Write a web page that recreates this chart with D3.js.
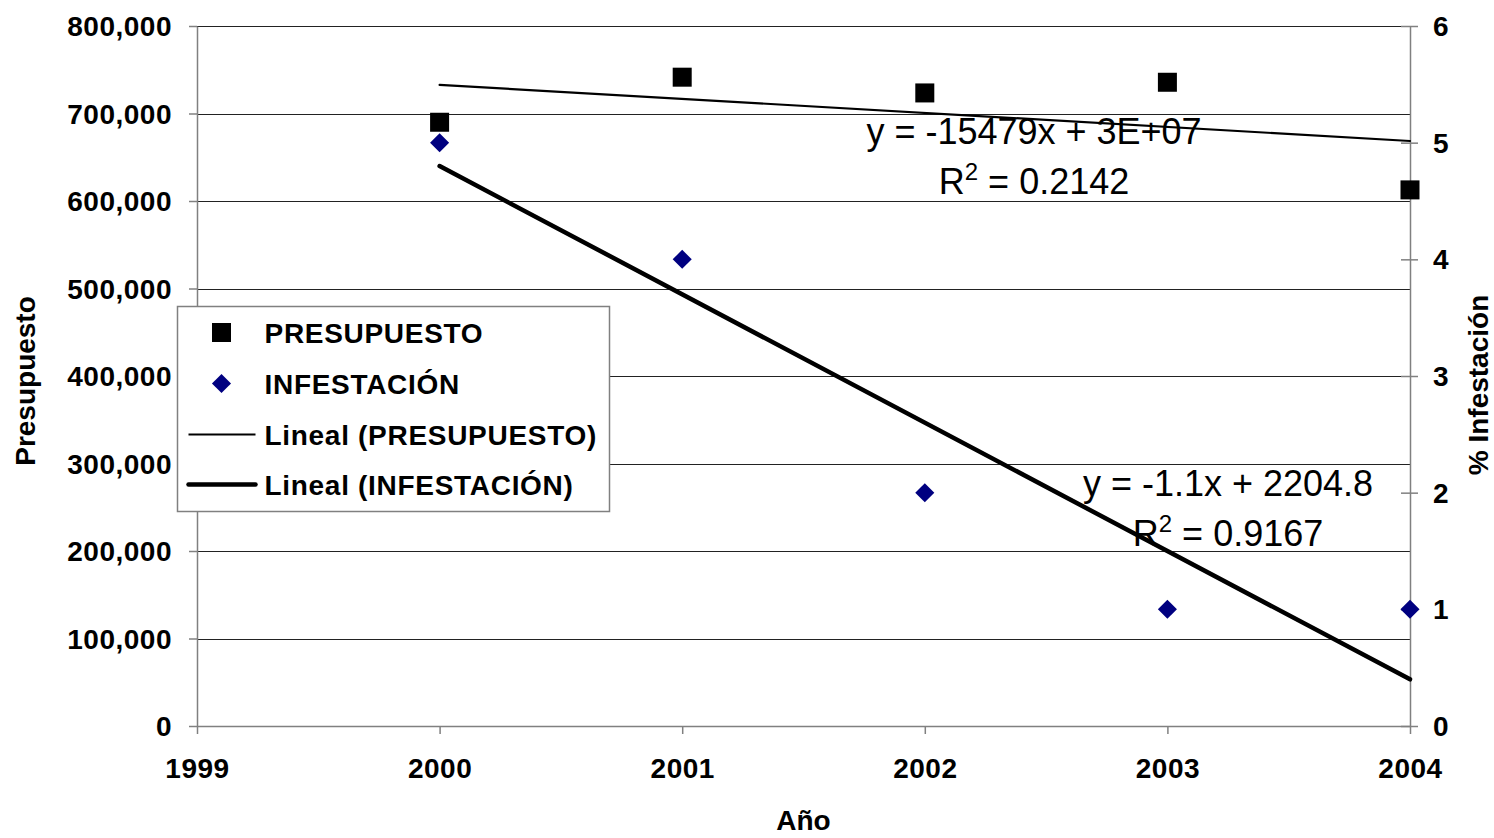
<!DOCTYPE html>
<html>
<head>
<meta charset="utf-8">
<script src="https://cdn.jsdelivr.net/npm/d3@7"></script>
<style>
  body { margin: 0; background: #fff; }
  #chart { width: 1494px; height: 838px; }
  text { font-family: "Liberation Sans", Arial, sans-serif; }
</style>
</head>
<body>
<div id="chart"></div>
<script>
// ====== data ======
const years        = [2000, 2001, 2002, 2003, 2004];
const presupuesto  = [690000, 741500, 723500, 735700, 612700];
const infestacion  = [5, 4, 2, 1, 1];

const xTicks       = [1999, 2000, 2001, 2002, 2003, 2004];
const leftTicks    = [0, 100000, 200000, 300000, 400000, 500000, 600000, 700000, 800000];
const rightTicks   = [0, 1, 2, 3, 4, 5, 6];

const legendLabels = ["PRESUPUESTO", "INFESTACIÓN", "Lineal (PRESUPUESTO)", "Lineal (INFESTACIÓN)"];
const eqPresupuesto = ["y = -15479x + 3E+07", "0.2142"];
const eqInfestacion = ["y = -1.1x + 2204.8", "0.9167"];

// least squares fit: returns {a, b} with y = a*x + b
function linreg(xs, ys) {
  const mx = d3.mean(xs), my = d3.mean(ys);
  const sxy = d3.sum(xs, (x, i) => (x - mx) * (ys[i] - my));
  const sxx = d3.sum(xs, x => (x - mx) * (x - mx));
  const a = sxy / sxx;
  return { a, b: my - a * mx };
}

class ScatterChart {
  constructor(id) {
    this.id = id;
    this.initSVG();
    this.initScales();
    this.drawGrid();
    this.drawAxes();
    this.drawTrends();
    this.drawPoints();
    this.drawEquations();
    this.drawLegend();
  }

  initSVG() {
    const div = d3.select(`#${this.id}`);
    this.width  = 1494;
    this.height = 838;
    this.margin = { top: 26, right: 84, bottom: 112, left: 197 };
    this.innerW = this.width  - this.margin.left - this.margin.right;
    this.innerH = this.height - this.margin.top  - this.margin.bottom;

    this.svg = div.append("svg")
      .attr("width",  this.width)
      .attr("height", this.height);

    this.g = this.svg.append("g")
      .attr("transform", `translate(${this.margin.left},${this.margin.top})`);
  }

  initScales() {
    this.x  = d3.scaleLinear().domain([1999, 2004]).range([0, this.innerW]);
    this.yL = d3.scaleLinear().domain([0, 800000]).range([this.innerH, 0]);
    this.yR = d3.scaleLinear().domain([0, 6]).range([this.innerH, 0]);
  }

  drawGrid() {
    this.g.append("g")
      .selectAll("line")
      .data(leftTicks.slice(1))
      .join("line")
        .attr("x1", 0).attr("x2", this.innerW)
        .attr("y1", d => Math.round(this.yL(d)) + 0.5)
        .attr("y2", d => Math.round(this.yL(d)) + 0.5)
        .attr("stroke", "#222")
        .attr("stroke-width", 1);
  }

  drawAxes() {
    const fmt = d3.format(",");
    const tickFont = g => g.selectAll("text")
      .style("font-size", "28px")
      .style("font-weight", "bold")
      .style("letter-spacing", "0.5px")
      .attr("fill", "#000");
    const axisLine = g => {
      g.select(".domain").attr("stroke", "#808080").attr("stroke-width", 1.5);
      g.selectAll(".tick line").attr("stroke", "#808080").attr("stroke-width", 1.5);
    };

    // left
    this.g.append("g")
      .call(d3.axisLeft(this.yL).tickValues(leftTicks).tickFormat(fmt).tickSize(8).tickSizeOuter(0).tickPadding(17))
      .call(axisLine)
      .call(tickFont)
      .call(g => g.selectAll("text").attr("dy", "0.34em"));

    // right
    this.g.append("g")
      .attr("transform", `translate(${this.innerW},0)`)
      .call(d3.axisRight(this.yR).tickValues(rightTicks).tickFormat(d3.format("d")).tickSize(8).tickSizeOuter(0).tickPadding(15))
      .call(axisLine)
      .call(tickFont)
      .call(g => g.selectAll("text").attr("dy", "0.34em"))
      .call(g => g.selectAll(".tick line").attr("x1", -9));

    // bottom
    this.g.append("g")
      .attr("transform", `translate(0,${this.innerH})`)
      .call(d3.axisBottom(this.x).tickValues(xTicks).tickFormat(d3.format("d")).tickSize(8).tickSizeOuter(0).tickPadding(24))
      .call(axisLine)
      .call(tickFont);

    // titles
    this.svg.append("text")
      .attr("transform", `translate(35,${this.margin.top + this.innerH / 2 + 5}) rotate(-90)`)
      .attr("text-anchor", "middle")
      .style("font-size", "28px").style("font-weight", "bold")
      .text("Presupuesto");

    this.svg.append("text")
      .attr("transform", `translate(1488,${this.margin.top + this.innerH / 2 + 9}) rotate(-90)`)
      .attr("text-anchor", "middle")
      .style("font-size", "28px").style("font-weight", "bold")
      .text("% Infestación");

    this.svg.append("text")
      .attr("x", this.margin.left + this.innerW / 2)
      .attr("y", 830)
      .attr("text-anchor", "middle")
      .style("font-size", "28px").style("font-weight", "bold")
      .text("Año");
  }

  drawTrends() {
    const x0 = years[0], x1 = years[years.length - 1];
    const rp = linreg(years, presupuesto);
    const ri = linreg(years, infestacion);

    this.g.append("line")
      .attr("x1", this.x(x0)).attr("y1", this.yL(rp.a * x0 + rp.b))
      .attr("x2", this.x(x1)).attr("y2", this.yL(rp.a * x1 + rp.b))
      .attr("stroke", "#000").attr("stroke-width", 2.2)
      .attr("stroke-linecap", "round");

    this.g.append("line")
      .attr("x1", this.x(x0)).attr("y1", this.yR(ri.a * x0 + ri.b))
      .attr("x2", this.x(x1)).attr("y2", this.yR(ri.a * x1 + ri.b))
      .attr("stroke", "#000").attr("stroke-width", 4.5)
      .attr("stroke-linecap", "round");
  }

  drawPoints() {
    const sq = 19;
    this.g.append("g")
      .selectAll("rect")
      .data(years)
      .join("rect")
        .attr("x", (d, i) => this.x(d) - sq / 2)
        .attr("y", (d, i) => this.yL(presupuesto[i]) - sq / 2)
        .attr("width", sq).attr("height", sq)
        .attr("fill", "#000");

    // diamond = square rotated 45°, diagonal ~19px
    this.diamond = d3.symbol().type(d3.symbolSquare).size(182);
    this.g.append("g")
      .selectAll("path")
      .data(years)
      .join("path")
        .attr("d", this.diamond)
        .attr("transform", (d, i) => `translate(${this.x(d)},${this.yR(infestacion[i])}) rotate(45)`)
        .attr("fill", "#000080");
  }

  drawEquations() {
    const drawEq = (eq, cx, y) => {
      const g = this.svg.append("g").style("font-size", "36px");
      g.append("text")
        .attr("x", cx).attr("y", y)
        .attr("text-anchor", "middle")
        .attr("xml:space", "preserve")
        .text(eq[0]);
      const t = g.append("text")
        .attr("x", cx).attr("y", y + 50)
        .attr("text-anchor", "middle");
      t.append("tspan").text("R");
      t.append("tspan").attr("dy", -14).style("font-size", "24px").text("2");
      t.append("tspan").attr("dy", 14).text(" = " + eq[1]);
    };
    drawEq(eqPresupuesto, 1034, 144);
    drawEq(eqInfestacion, 1228, 496);
  }

  drawLegend() {
    const lg = this.svg.append("g").attr("transform", "translate(177.5,306.5)");
    lg.append("rect")
      .attr("width", 432).attr("height", 205)
      .attr("fill", "#fff")
      .attr("stroke", "#808080").attr("stroke-width", 1.5);

    const rowY = [26, 77, 128, 178];

    lg.append("rect")
      .attr("x", 44 - 9.5).attr("y", rowY[0] - 9.5)
      .attr("width", 19).attr("height", 19)
      .attr("fill", "#000");

    lg.append("path")
      .attr("d", this.diamond)
      .attr("transform", `translate(44,${rowY[1]}) rotate(45)`)
      .attr("fill", "#000080");

    lg.append("line")
      .attr("x1", 11).attr("x2", 78)
      .attr("y1", rowY[2]).attr("y2", rowY[2])
      .attr("stroke", "#000").attr("stroke-width", 2);

    lg.append("line")
      .attr("x1", 11).attr("x2", 78)
      .attr("y1", rowY[3]).attr("y2", rowY[3])
      .attr("stroke", "#000").attr("stroke-width", 4.5)
      .attr("stroke-linecap", "round");

    lg.selectAll("text.lab")
      .data(legendLabels)
      .join("text")
        .attr("class", "lab")
        .attr("x", 87)
        .attr("y", (d, i) => rowY[i] + 10)
        .style("font-size", "28px")
        .style("font-weight", "bold")
        .style("letter-spacing", "0.7px")
        .text(d => d);
  }
}

new ScatterChart("chart");
</script>
</body>
</html>
